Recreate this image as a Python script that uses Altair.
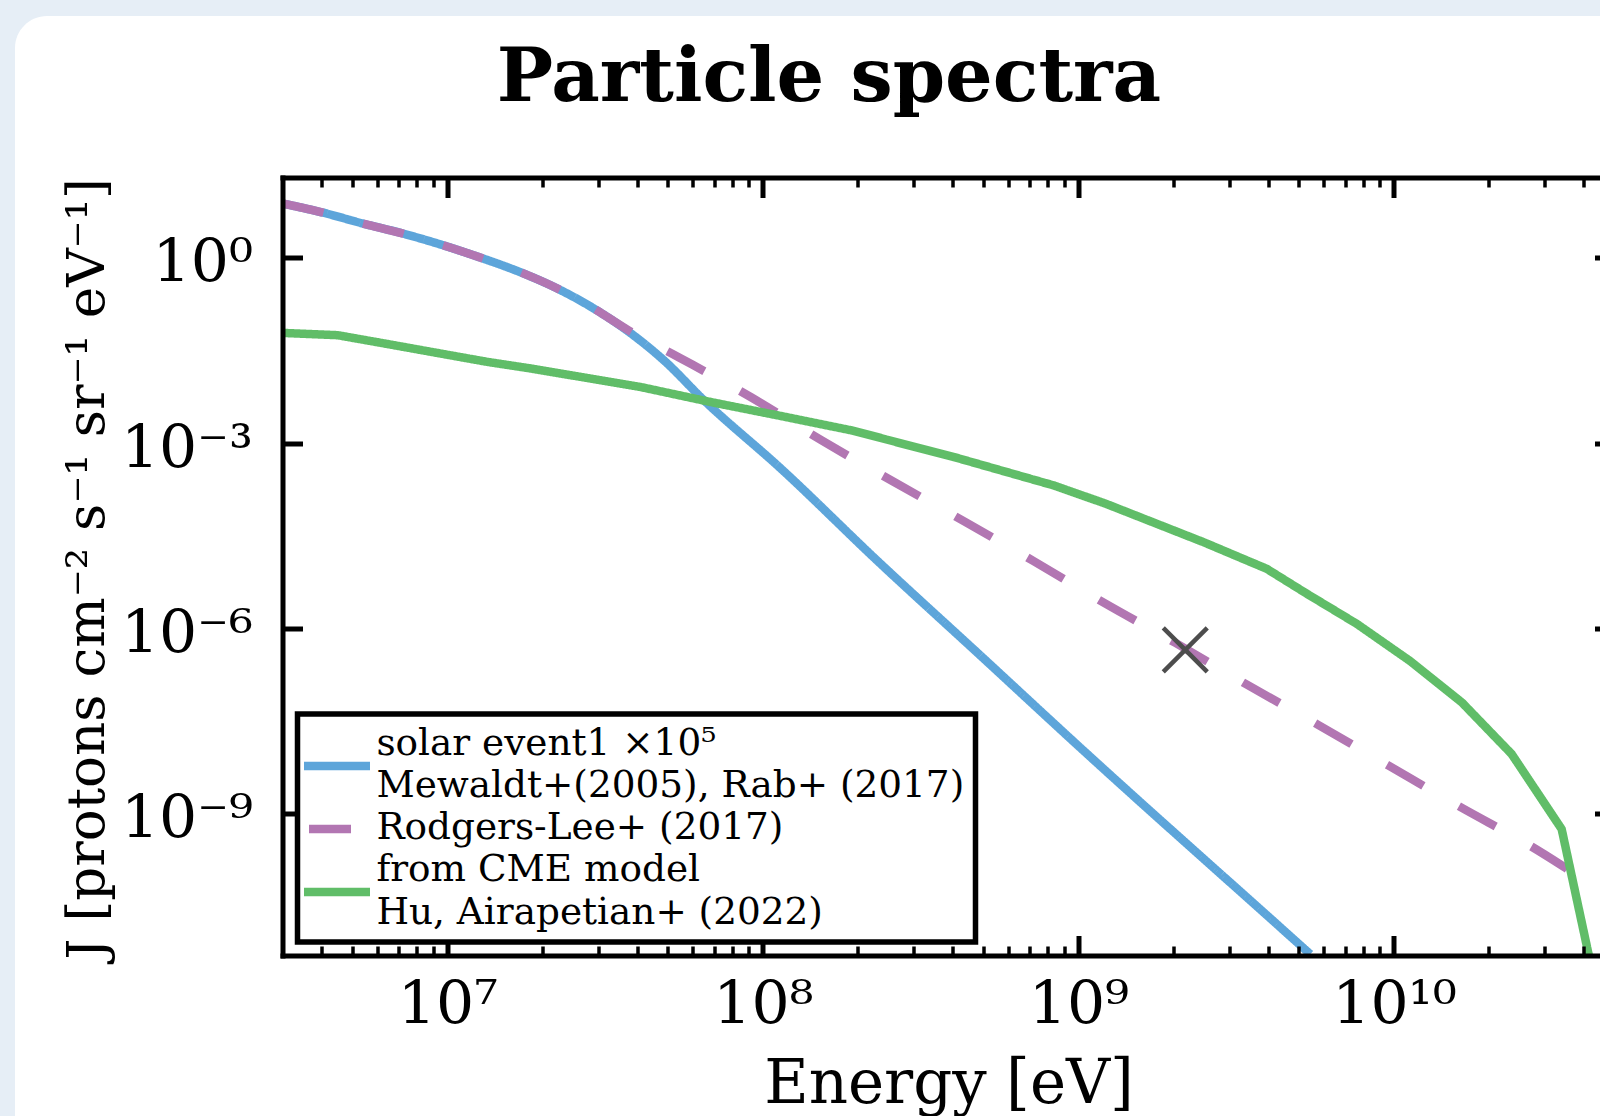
import altair as alt
import pandas as pd

# ---------------- data ----------------
series_names = [
    "solar event1 ×10⁵ Mewaldt+(2005), Rab+ (2017)",
    "Rodgers-Lee+ (2017)",
    "from CME model Hu, Airapetian+ (2022)",
]
# text lines of the legend box, top to bottom
legend_lines = [
    "solar event1 ×10⁵",
    "Mewaldt+(2005), Rab+ (2017)",
    "Rodgers-Lee+ (2017)",
    "from CME model",
    "Hu, Airapetian+ (2022)",
]
series_colors = ["#5DA5DA", "#B276B2", "#60BD68"]
series_dashes = [[1, 0], [42, 41], [1, 0]]

solar_energy = [3.0e6, 4.0e6, 5.38e6, 7.19e6, 9.64e6, 1.27e7, 1.69e7, 2.23e7, 2.91e7,
                3.76e7, 4.85e7, 6.50e7, 1.14e8, 2.30e8, 4.89e8, 1.01e9, 4.37e9, 5.43e9]
solar_flux = [7.59, 5.45, 3.61, 2.49, 1.61, 1.01, 0.593, 0.318, 0.151,
              0.0631, 0.0219, 4.93e-3, 3.85e-4, 1.25e-5, 3.61e-7, 1.18e-8, 1.42e-11, 5.25e-12]

rodgers_energy = [3.0e6, 4.0e6, 5.38e6, 7.19e6, 9.64e6, 1.27e7, 1.69e7, 2.23e7, 2.91e7,
                  3.76e7, 5.42e7, 9.14e7, 1.53e8, 2.57e8, 4.33e8, 7.21e8, 1.21e9, 2.03e9,
                  3.42e9, 5.73e9, 9.62e9, 1.61e10, 2.70e10, 4.50e10, 5.0e10]
rodgers_flux = [7.59, 5.45, 3.61, 2.49, 1.61, 1.01, 0.593, 0.318, 0.151,
                0.0661, 0.0243, 5.57e-3, 1.11e-3, 2.42e-4, 5.43e-5, 1.22e-5, 2.55e-6, 5.79e-7,
                1.22e-7, 2.75e-8, 5.94e-9, 1.30e-9, 3.00e-10, 5.94e-11, 4.37e-11]

cme_energy = [3.0e6, 4.49e6, 6.78e6, 9.53e6, 1.34e7, 1.84e7, 4.09e7, 6.82e7, 1.14e8,
              1.90e8, 4.03e8, 8.34e8, 1.22e9, 2.49e9, 3.95e9, 5.30e9, 7.62e9, 1.12e10,
              1.64e10, 2.36e10, 3.40e10, 4.15e10]
cme_flux = [0.0608, 0.0558, 0.0384, 0.0281, 0.0206, 0.0161, 8.09e-3, 4.62e-3, 2.74e-3,
            1.61e-3, 5.93e-4, 2.06e-4, 1.04e-4, 2.48e-5, 9.18e-6, 3.61e-6, 1.18e-6, 2.99e-7,
            6.31e-8, 9.18e-9, 5.58e-10, 4.9e-12]

marker_energy = [2.18e9]
marker_flux = [4.47e-7]

# tick values and labels
x_major_values = [1e7, 1e8, 1e9, 1e10]
x_major_labels = ["10⁷", "10⁸", "10⁹", "10¹⁰"]
x_minor_values = [4e6, 5e6, 6e6, 7e6, 8e6, 9e6,
                  2e7, 3e7, 4e7, 5e7, 6e7, 7e7, 8e7, 9e7,
                  2e8, 3e8, 4e8, 5e8, 6e8, 7e8, 8e8, 9e8,
                  2e9, 3e9, 4e9, 5e9, 6e9, 7e9, 8e9, 9e9,
                  2e10, 3e10, 4e10]
y_major_values = [1.0, 1e-3, 1e-6, 1e-9]
y_major_labels = ["10⁰", "10⁻³", "10⁻⁶", "10⁻⁹"]

x_title = "Energy [eV]"
y_title = "J [protons cm⁻² s⁻¹ sr⁻¹ eV⁻¹]"
chart_title = "Particle spectra"

# ---------------- tables ----------------
def table(name, xs, ys):
    return pd.DataFrame({"energy": xs, "flux": ys, "series": [name] * len(xs)})


smooth_df = pd.concat([table(series_names[0], solar_energy, solar_flux),
                       table(series_names[1], rodgers_energy, rodgers_flux)], ignore_index=True)
cme_df = table(series_names[2], cme_energy, cme_flux)
marker_df = pd.DataFrame({"energy": marker_energy, "flux": marker_flux})
legend_text_df = pd.DataFrame({"energy": marker_energy * len(legend_lines),
                               "flux": marker_flux * len(legend_lines),
                               "line": legend_lines})


def label_expr(values, labels):
    parts = [f"datum.value == {v!r} ? '{l}'" for v, l in zip(values, labels)]
    return " : ".join(parts) + " : ''"


W, H = 1332, 778
FONT = "DejaVu Serif"

x_scale = alt.Scale(type="log", domain=[3e6, 5e10], nice=False)
y_scale = alt.Scale(type="log", domain=[5e-12, 20], nice=False)
color_scale = alt.Scale(domain=series_names, range=series_colors)
dash_scale = alt.Scale(domain=series_names, range=series_dashes)


def tick_axis(orient, offset, values, size, width, domain):
    kw = dict(orient=orient, offset=offset, values=values, labels=False, ticks=True,
              tickSize=size, tickWidth=width, tickColor="black", grid=False,
              title=None, zindex=1, domain=domain)
    if domain:
        kw.update(domainColor="black", domainWidth=5, domainCap="square")
    return alt.Axis(**kw)


x_label_axis = alt.Axis(
    orient="bottom", values=x_major_values, labelExpr=label_expr(x_major_values, x_major_labels),
    ticks=False, tickSize=0, domain=False, grid=False, zindex=1,
    labelFont=FONT, labelFontSize=60, labelColor="black", labelPadding=68,
    labelBaseline="alphabetic", labelFlush=False, labelOverlap=False,
    title=x_title, titleFont=FONT, titleFontSize=61, titleFontWeight="normal",
    titleColor="black", titleX=W / 2, titleY=147, titleBaseline="alphabetic",
    titleAlign="center",
)
y_label_axis = alt.Axis(
    orient="left", values=y_major_values, labelExpr=label_expr(y_major_values, y_major_labels),
    ticks=False, tickSize=0, domain=False, grid=False, zindex=1,
    labelFont=FONT, labelFontSize=60, labelColor="black", labelPadding=30,
    labelBaseline="alphabetic", labelOffset=24, labelAlign="right",
    labelFlush=False, labelOverlap=False,
    title=y_title, titleFont=FONT, titleFontSize=53.2, titleFontWeight="normal",
    titleColor="black", titleX=-179.5, titleY=391, titleBaseline="alphabetic",
    titleAlign="center",
)

# legend of line samples (one per series, evenly spaced, labels hidden)
symbol_legend = alt.Legend(
    title=None, orient="none", legendX=21.5, legendY=557.75, direction="vertical",
    labelExpr="'\u200b'", labelFontSize=61.5, labelOpacity=0, labelLimit=50,
    symbolType="M-3,0H3", symbolSize=484, symbolStrokeWidth=8.5,
    symbolOffset=2.25, symbolDashOffset=-5, padding=0, rowPadding=0,
    strokeColor="transparent", fillColor="transparent", zindex=3,
)
# framed box holding the legend text lines
text_legend = alt.Legend(
    title=None, orient="none", legendX=15, legendY=536.5, direction="vertical",
    labelFont=FONT, labelFontSize=37.4, labelColor="black", labelLimit=2000,
    labelOffset=49.2, symbolOpacity=0, symbolSize=1, symbolStrokeWidth=0,
    symbolOffset=alt.ExprRef(expr="-18.7"), padding=11, rowPadding=3.2,
    strokeColor="black", fillColor="white", cornerRadius=0, zindex=2,
)

card = alt.Chart(pd.DataFrame({"k": [0]})).mark_rect(color="white", cornerRadius=32).encode(
    x=alt.value(-267.5), x2=alt.value(3000), y=alt.value(-161.5), y2=alt.value(3000)
)

smooth_lines = alt.Chart(smooth_df).mark_line(
    strokeWidth=8.5, clip=True, strokeCap="butt", interpolate="monotone"
).encode(
    x=alt.X("energy:Q", scale=x_scale, axis=x_label_axis),
    y=alt.Y("flux:Q", scale=y_scale, axis=y_label_axis),
    color=alt.Color("series:N", scale=color_scale, legend=symbol_legend),
    strokeDash=alt.StrokeDash("series:N", scale=dash_scale, legend=symbol_legend),
)

cme_line = alt.Chart(cme_df).mark_line(strokeWidth=8.5, clip=True, strokeCap="butt").encode(
    x=alt.X("energy:Q", scale=x_scale, axis=None),
    y=alt.Y("flux:Q", scale=y_scale, axis=None),
    color=alt.Color("series:N", scale=color_scale, legend=symbol_legend),
    strokeDash=alt.StrokeDash("series:N", scale=dash_scale, legend=symbol_legend),
)

legend_text_layer = alt.Chart(legend_text_df).mark_point(opacity=0).encode(
    x=alt.X("energy:Q", scale=x_scale, axis=None),
    y=alt.Y("flux:Q", scale=y_scale, axis=None),
    shape=alt.Shape("line:N", scale=alt.Scale(domain=legend_lines), legend=text_legend),
)

marker = alt.Chart(marker_df).mark_point(
    shape="M-1,-1L1,1M-1,1L1,-1", filled=False, color="#4D4D4D", strokeWidth=4.5,
    size=1936, opacity=1,
).encode(
    x=alt.X("energy:Q", scale=x_scale, axis=tick_axis("top", -H, x_major_values, 20, 5, True)),
    y=alt.Y("flux:Q", scale=y_scale, axis=tick_axis("right", -W, y_major_values, 20, 5, True)),
)

helper_top = alt.Chart(marker_df).mark_point(opacity=0).encode(
    x=alt.X("energy:Q", scale=x_scale, axis=tick_axis("bottom", -H, x_major_values, 20, 5, True)),
    y=alt.Y("flux:Q", scale=y_scale, axis=tick_axis("left", -W, y_major_values, 20, 5, True)),
)
helper_minor_bottom = alt.Chart(marker_df).mark_point(opacity=0).encode(
    x=alt.X("energy:Q", scale=x_scale, axis=tick_axis("top", -H, x_minor_values, 9.5, 3.5, False)),
    y=alt.Y("flux:Q", scale=y_scale, axis=None),
)
helper_minor_top = alt.Chart(marker_df).mark_point(opacity=0).encode(
    x=alt.X("energy:Q", scale=x_scale, axis=tick_axis("bottom", -H, x_minor_values, 9.5, 3.5, False)),
    y=alt.Y("flux:Q", scale=y_scale, axis=None),
)

chart = alt.layer(
    card, smooth_lines, cme_line, legend_text_layer, marker,
    helper_top, helper_minor_bottom, helper_minor_top
).resolve_axis(
    x="independent", y="independent"
).properties(
    width=W, height=H, autosize="none",
    padding={"left": 282.5, "top": 177.5, "right": -14.5, "bottom": 160},
    title=alt.TitleParams(
        text=chart_title, font=FONT, fontSize=75, fontWeight="bold", color="black",
        anchor="middle", frame="group", dx=-119.5, dy=160, baseline="alphabetic", offset=0,
    ),
).configure(
    background="#e6eef6",
).configure_legend(
    strokeWidth=5.5,
).configure_view(stroke="transparent")

chart.save("out.html", embed_options={"renderer": "svg", "actions": False})
